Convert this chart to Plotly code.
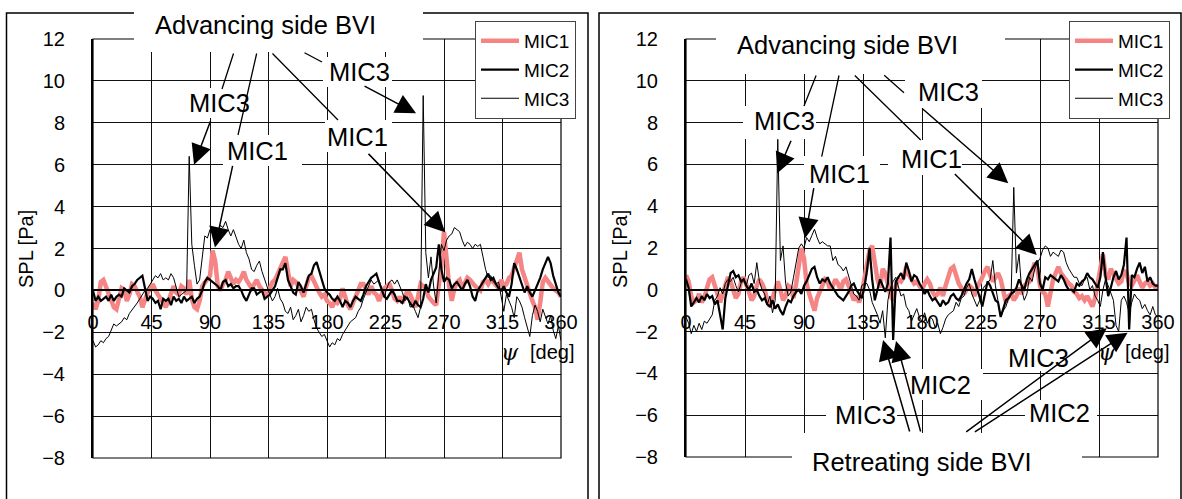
import plotly.graph_objects as go

W, H = 1182, 499
def px(x): return x / W
def py(y): return 1 - y / H

FONT = "Liberation Sans, Arial, sans-serif"

# rotor azimuth sampling grid [deg]
psi = list(range(0, 361, 2))

# ---- left chart ----
left_mic1 = [-0.6,-0.9,-0.5,0.4,0.5,0.2,-0.2,-0.5,-0.8,-0.9,
             -0.4,0.1,0.0,-0.5,-0.2,0.3,0.2,-0.1,-0.3,-0.8,
             -0.4,-0.1,0.1,0.3,0.0,-0.2,-0.4,-0.5,-0.8,-0.5,
             -0.2,0.2,-0.1,-0.2,0.2,0.1,-0.2,0.5,-0.4,-0.8,
             -0.9,-0.5,0.2,0.4,0.5,0.7,1.9,1.4,0.2,0.0,
             0.3,0.5,0.9,0.6,0.3,0.5,0.4,0.6,0.9,0.5,
             0.3,0.1,0.3,0.5,0.2,0.0,-0.1,-0.3,0.1,0.4,
             0.5,0.8,1.1,1.3,1.6,0.9,0.2,0.5,0.4,0.2,
             0.0,-0.3,0.2,0.6,0.7,0.4,0.1,-0.1,-0.3,-0.2,
             -0.5,-0.6,-0.8,-0.5,-0.6,-0.4,0.1,-0.3,-0.7,-0.9,
             -0.6,-0.3,0.0,0.3,0.3,0.1,-0.2,0.2,-0.1,-0.2,
             -0.5,-0.2,0.1,0.2,0.3,0.0,-0.4,-0.5,-0.3,-0.6,
             -0.3,0.0,-0.2,-0.5,-0.8,-0.3,0.3,0.2,0.1,-0.3,
             -0.5,-0.6,-0.7,0.1,1.2,2.8,1.4,0.2,-0.5,0.1,
             0.4,0.5,0.1,0.4,0.6,0.5,0.3,0.2,0.1,0.0,
             0.4,0.5,0.3,0.5,0.4,0.2,0.1,0.5,0.2,0.3,
             0.6,0.7,1.1,1.5,1.8,1.0,0.6,0.2,-0.1,-0.5,
             -0.8,-1.4,-0.6,0.4,0.6,0.4,0.3,0.1,0.0,-0.1,
             -0.3]
left_mic2 = [0.0,-0.5,-0.3,-0.5,-0.4,-0.3,-0.5,-0.2,-0.5,-0.3,
             -0.2,-0.3,0.1,0.0,-0.1,0.2,0.3,0.5,0.6,0.7,
             0.1,-0.5,-0.3,-0.4,-0.6,-0.5,-0.9,-0.4,-0.5,-0.4,
             -0.7,-0.3,-0.5,-0.4,-0.6,-0.3,-0.5,-0.4,-0.3,-0.6,
             -0.4,-0.3,0.0,0.4,0.6,0.5,0.4,0.3,0.2,0.0,
             0.4,0.5,0.2,0.3,0.1,0.2,0.2,0.0,-0.3,-0.5,
             -0.2,0.1,0.1,-0.2,-0.1,0.0,-0.4,-0.3,-0.2,0.0,
             0.2,0.6,1.0,1.0,1.3,0.5,0.2,-0.1,-0.2,0.4,
             0.2,-0.1,0.3,0.7,0.8,1.2,1.35,0.9,0.5,0.1,
             -0.1,-0.2,-0.4,-0.5,-0.3,-0.5,-0.8,-0.5,-0.6,-0.8,
             -0.5,-0.3,-0.4,-0.5,-0.2,0.2,0.4,0.6,0.7,0.8,
             0.4,0.0,-0.3,-0.4,-0.2,0.0,-0.2,-0.5,-0.5,-0.6,
             -0.3,-0.4,-0.6,-0.8,-0.5,-0.7,-0.8,-0.4,0.3,-0.1,
             0.5,0.8,1.1,2.2,1.0,0.4,0.6,0.5,0.1,0.3,
             0.4,0.2,0.0,0.3,0.5,0.2,-0.3,-0.5,0.0,0.2,
             0.4,0.6,0.8,0.5,0.6,0.3,0.1,0.0,0.2,-0.1,
             -0.3,0.3,1.3,1.0,0.6,0.3,-0.1,0.2,-0.1,-0.3,
             0.0,0.3,0.6,1.0,1.3,1.6,1.3,0.7,0.3,-0.1,
             -0.3]
left_mic3 = [-2.4,-2.7,-2.6,-2.4,-2.5,-2.3,-2.2,-1.9,-1.6,-1.7,
             -1.6,-1.5,-1.3,-1.4,-1.1,-0.95,-0.8,-0.6,-0.4,-0.2,
             0.0,0.1,0.3,0.5,0.7,0.6,0.8,0.5,0.6,0.5,
             0.8,0.6,0.2,-0.3,-0.2,-0.1,0.0,6.4,2.2,1.2,
             0.3,0.5,1.5,2.6,2.5,2.9,2.7,3.0,2.8,3.1,
             3.0,3.3,2.9,2.6,2.9,2.5,2.2,2.0,2.4,1.8,
             1.5,1.0,0.9,1.2,1.4,0.9,0.5,0.1,-0.2,-0.5,
             -0.3,0.1,-0.4,-0.6,-1.0,-1.1,-0.8,-1.4,-1.2,-0.9,
             -1.5,-1.2,-0.8,-1.0,-0.9,-1.4,-1.8,-2.0,-2.2,-2.1,
             -2.4,-2.7,-2.5,-2.6,-2.3,-2.4,-2.1,-1.9,-1.7,-1.5,
             -1.4,-1.3,-1.0,-0.8,-0.4,-0.1,0.2,0.5,0.3,0.4,
             0.5,0.1,-0.3,0.1,0.4,0.5,0.3,0.5,0.2,-0.1,
             -0.5,-0.3,-0.8,-0.7,-1.0,-1.3,-0.8,9.3,1.8,0.6,
             1.6,0.2,-0.6,0.7,2.2,1.9,2.4,2.6,2.7,3.0,
             2.9,2.8,2.4,2.1,2.3,2.2,2.0,2.2,2.1,2.2,
             1.6,1.0,0.6,0.7,0.4,0.3,0.4,-0.3,-1.0,-0.2,
             -0.5,-0.8,-1.3,-0.3,-0.5,-0.8,-1.3,-1.8,-2.2,-1.2,
             -0.7,-1.0,-1.5,-0.9,-1.3,-1.6,-1.2,-1.9,-2.3,-1.7,
             -2.4]

# ---- right chart ----
right_mic1 = [0.7,0.4,-0.3,-0.6,-0.5,-0.2,-0.6,-0.4,0.1,0.5,
              0.6,0.2,-0.3,-0.6,-0.2,0.3,0.6,0.4,0.0,-0.4,
              -0.2,0.4,0.6,0.3,-0.1,-0.5,-0.3,0.2,0.5,0.3,
              0.0,-0.5,-0.8,-0.4,0.1,0.4,0.0,-0.5,-0.3,0.2,
              0.1,-0.4,0.3,1.0,2.0,1.5,0.3,-0.2,-0.6,-1.0,
              -0.4,-0.1,0.3,0.5,0.4,0.0,0.2,0.5,0.3,0.0,
              0.4,0.5,0.2,-0.2,-0.5,-0.3,-0.6,-0.2,0.6,1.1,
              1.9,2.1,1.2,0.5,0.1,1.0,0.8,0.3,-0.3,-0.5,
              0.2,0.5,0.4,0.6,1.1,0.7,0.5,0.3,0.4,0.2,
              0.0,0.3,0.5,0.3,-0.1,-0.3,-0.2,0.1,-0.3,0.2,
              0.6,1.0,1.1,0.6,0.3,0.1,-0.2,0.0,0.2,0.1,
              -0.3,0.1,0.3,0.6,0.9,1.1,0.7,0.4,0.6,0.8,
              0.5,-0.1,-0.6,-0.3,-0.2,-0.5,-0.3,0.1,-0.2,0.2,
              0.3,0.4,0.9,1.3,1.0,0.2,-0.1,-0.2,-0.8,-0.2,
              0.5,0.8,1.1,0.8,0.6,0.4,0.3,0.2,-0.1,-0.2,
              -0.4,-0.3,-0.5,-0.3,-0.6,-0.8,-0.4,0.3,1.2,1.7,
              0.7,0.5,1.0,0.8,0.6,0.3,0.4,0.9,0.8,0.3,
              0.2,0.5,0.7,0.4,0.1,0.3,0.4,0.2,0.3,0.1,
              0.2]
right_mic2 = [0.5,0.1,-0.8,-0.6,-0.4,-0.6,-0.3,-0.5,-0.2,-0.4,
              -0.3,-0.7,-0.5,-1.2,-1.9,-0.4,0.3,0.8,0.9,0.6,
              0.7,0.4,0.5,0.2,0.0,0.3,-0.1,0.0,-0.3,-0.5,
              -0.4,-0.7,-0.8,-0.5,-0.9,-0.7,-1.0,-1.2,-0.8,-0.5,
              -0.6,-0.3,-0.1,0.0,-0.2,0.2,0.4,0.7,1.0,1.1,
              0.6,0.3,0.5,0.4,0.6,0.3,0.1,-0.1,-0.3,-0.4,
              -0.5,-0.3,-0.1,0.2,0.3,0.0,-0.2,-0.4,0.1,0.9,
              2.0,0.5,-0.5,0.0,0.5,0.2,-0.1,0.3,2.5,-2.4,
              0.4,0.6,0.8,0.5,1.3,0.9,0.4,0.7,0.6,0.3,
              0.1,-0.2,0.0,-0.3,-0.5,-0.4,-0.6,-0.8,-0.5,-0.7,
              -0.6,-0.3,-0.2,-0.4,-0.5,-0.3,0.0,0.3,0.5,1.0,
              0.5,0.1,-0.4,-0.8,-0.2,0.4,0.2,-0.2,-0.5,-0.6,
              -1.3,-0.9,-0.5,-0.4,-0.2,-0.1,0.1,0.5,0.2,0.0,
              0.5,0.8,1.0,1.2,1.4,0.3,0.0,0.6,0.5,0.7,
              0.6,0.5,0.4,0.7,0.5,0.2,0.0,0.0,-0.1,0.3,
              0.2,0.4,0.5,0.8,0.6,0.5,0.3,0.1,0.6,1.8,
              0.6,-0.3,0.1,0.6,0.9,0.5,0.7,1.2,2.5,-1.9,
              0.7,0.6,1.0,1.3,0.8,1.1,0.4,0.6,0.3,0.2,
              0.2]
right_mic3 = [-1.3,-1.6,-2.1,-1.7,-2.0,-1.6,-1.9,-1.5,-1.6,-1.4,
              -1.2,-0.5,-0.3,0.1,-0.2,0.3,0.5,0.4,0.6,0.2,
              -0.1,0.3,0.5,0.2,0.7,0.8,0.3,1.3,0.4,0.0,
              -0.2,-0.7,-0.3,-1.1,-0.5,7.2,1.4,2.1,0.3,-0.3,
              -0.1,0.6,1.4,2.0,2.2,2.0,2.5,2.3,2.6,2.9,
              2.5,2.2,2.3,2.2,2.1,2.1,1.4,1.6,1.2,1.1,
              0.9,1.1,0.7,0.2,-0.2,-0.3,-0.5,0.2,0.3,0.3,
              0.0,-0.6,-0.9,-1.2,-1.6,-1.0,-2.3,-0.5,0.1,0.4,
              0.6,0.1,-0.3,-0.2,-0.8,-1.0,-1.5,-1.2,-0.9,-1.3,
              -1.5,-1.1,-1.6,-1.3,-1.4,-1.8,-1.6,-2.1,-1.8,-1.4,
              -1.2,-1.1,-1.0,-0.6,-0.8,-0.4,-0.3,0.1,0.3,-0.2,
              -0.5,-0.8,-0.5,0.0,0.2,0.3,0.5,1.4,0.2,-0.5,
              -1.3,-1.0,-0.8,-0.4,-0.2,4.9,0.8,1.7,0.0,-0.5,
              -0.2,0.6,0.4,1.0,1.3,1.5,1.9,2.1,2.0,1.6,
              1.8,1.7,1.6,1.9,1.8,1.3,1.0,0.8,0.6,0.6,
              0.3,0.2,0.5,0.6,0.0,0.2,-0.3,-0.5,-0.8,0.0,
              0.5,0.2,-0.2,-0.5,-1.7,-2.0,-0.5,-0.3,-0.6,-1.1,
              -0.6,-0.2,-0.4,-0.5,-0.9,-0.7,-1.0,-1.2,-0.8,-1.2,
              -1.3]

mic_names = ["MIC1", "MIC2", "MIC3"]
x_ticks = [0, 45, 90, 135, 180, 225, 270, 315, 360]
y_ticks = [-8, -6, -4, -2, 0, 2, 4, 6, 8, 10, 12]

styles = [dict(color="#F58585", width=4.5),
          dict(color="black", width=2.2),
          dict(color="black", width=1)]

fig = go.Figure()
for panel, (series, xa, ya, lg) in enumerate([
        ([left_mic1, left_mic2, left_mic3], "x", "y", "legend"),
        ([right_mic1, right_mic2, right_mic3], "x2", "y2", "legend2")]):
    for name, vals, st in zip(mic_names, series, styles):
        fig.add_trace(go.Scatter(x=psi, y=vals, mode="lines", name=name,
                                 line=st, xaxis=xa, yaxis=ya, legend=lg,
                                 legendgroup=f"{panel}{name}"))

def xax(d0, d1, pos):
    return dict(domain=[px(d0), px(d1)], range=[0, 360], tickvals=x_ticks,
                showgrid=True, gridcolor="#111", gridwidth=1, zeroline=False,
                anchor="free", position=pos, showline=True, linecolor="black",
                linewidth=1.5, ticks="", ticklabelstandoff=14, automargin=False,
                tickfont=dict(size=20, family=FONT, color="black"))

def yax(anchor, top, bottom):
    return dict(domain=[py(bottom), py(top)], range=[-8, 12], tickvals=y_ticks,
                showgrid=True, gridcolor="#111", gridwidth=1, zeroline=False,
                anchor=anchor, showline=True, linecolor="black", linewidth=2,
                ticks="", ticklabelstandoff=22, automargin=False,
                tickfont=dict(size=20, family=FONT, color="black"))

def leg(x):
    return dict(x=px(x), y=py(21), xanchor="left", yanchor="top",
                bgcolor="white", bordercolor="#444", borderwidth=1,
                font=dict(size=19, family=FONT, color="black"),
                tracegroupgap=1, itemwidth=38)

shapes = []
def rect(x0, y0, x1, y1, line=1.5, fill=None):
    shapes.append(dict(type="rect", xref="paper", yref="paper",
                       x0=px(x0), x1=px(x1), y0=py(y1), y1=py(y0),
                       line=dict(color="black", width=line) if line else dict(width=0),
                       fillcolor=fill if fill else "rgba(0,0,0,0)", layer="above"))

# outer frames and plot-area borders
rect(6.5, 13, 588, 530)
rect(599, 13, 1181, 530)
rect(93, 39, 561, 458, 1.2)
rect(686, 39, 1158, 457, 1.2)

# white label boxes (hide grid beneath the labels)
white_boxes = [(134, 3, 423, 52), (185, 88, 253, 118), (223, 135, 302, 166),
               (323, 57, 392, 87), (325, 120, 392, 152),
               (716, 15, 1005, 74), (743, 106, 816, 139), (804, 156, 880, 190),
               (905, 74, 982, 108), (888, 140, 962, 175), (792, 433, 1082, 495),
               (826, 400, 897, 433), (907, 369, 983, 400), (1000, 337, 1075, 371),
               (1025, 400, 1097, 433)]
for b in white_boxes:
    rect(*b, line=0, fill="white")

annotations = []
def label(text, x, y, size=25.5):
    annotations.append(dict(text=text, xref="paper", yref="paper", x=px(x), y=py(y),
                            xanchor="center", yanchor="middle", showarrow=False,
                            font=dict(size=size, family=FONT, color="black")))

def connector(x0, y0, x1, y1):
    annotations.append(dict(text="", xref="paper", yref="paper", x=px(x1), y=py(y1),
                            ax=x0 - x1, ay=y0 - y1, showarrow=True, arrowhead=0,
                            arrowwidth=1.3, arrowcolor="black", standoff=0))

def arrow(xa, ya, tip_deg, tip_val, dx, dy):
    annotations.append(dict(text="", xref=xa, yref=ya, x=tip_deg, y=tip_val,
                            ax=dx, ay=dy, showarrow=True, arrowhead=2,
                            arrowsize=2.7, arrowwidth=1.5, arrowcolor="black",
                            standoff=0))

# left chart labels
label("Advancing side BVI", 265, 25)
label("MIC3", 219, 103)
label("MIC1", 257, 151)
label("MIC3", 359, 72)
label("MIC1", 357, 137)
connector(234, 52, 222, 89)
connector(257, 52, 238, 135)
connector(271, 52, 338, 120)
connector(303, 52, 322, 62)
arrow("x", "y", 77.7, 6.0, 17, -45)
arrow("x", "y", 93.8, 2.05, 18, -83)
arrow("x", "y", 248.5, 8.45, -53, -28)
arrow("x", "y", 270.8, 2.77, -78, -80)

# right chart labels
label("Advancing side BVI", 847.5, 45)
label("MIC3", 784.5, 121)
label("MIC1", 839.7, 174)
label("MIC3", 949, 92)
label("MIC1", 931, 159)
label("Retreating side BVI", 922, 462)
label("MIC3", 865.5, 415)
label("MIC2", 940, 385)
label("MIC3", 1038.5, 358)
label("MIC2", 1059, 413)
connector(816.7, 74, 804, 106)
connector(839.3, 74, 821.7, 156.7)
connector(853.3, 74, 920.7, 140)
connector(882.7, 74, 904, 92.7)
arrow("x2", "y2", 69.6, 5.58, 14.4, -34)
arrow("x2", "y2", 90.8, 2.47, 9, -51.6)
arrow("x2", "y2", 245.8, 5.1, -87.6, -76)
arrow("x2", "y2", 267.5, 1.67, -83.4, -82.3)
arrow("x2", "y2", 150.3, -2.4, 27, 93)
arrow("x2", "y2", 160.2, -2.45, 25, 92)
arrow("x2", "y2", 320.9, -1.84, -142, 104.7)
arrow("x2", "y2", 336.8, -2.05, -154.2, 100.3)

# axis titles
for xc in (26, 620):
    annotations.append(dict(text="SPL [Pa]", xref="paper", yref="paper", x=px(xc), y=py(249),
                            textangle=-90, showarrow=False, xanchor="center", yanchor="middle",
                            font=dict(size=20, family=FONT, color="black")))
for xpsi, xdeg in ((510, 552), (1107, 1147)):
    annotations.append(dict(text="<i>ψ</i>", xref="paper", yref="paper", x=px(xpsi), y=py(352),
                            showarrow=False, xanchor="center", yanchor="middle",
                            font=dict(size=22, family="DejaVu Serif", color="black")))
    annotations.append(dict(text="[deg]", xref="paper", yref="paper", x=px(xdeg), y=py(352),
                            showarrow=False, xanchor="center", yanchor="middle",
                            font=dict(size=20, family=FONT, color="black")))

fig.update_layout(
    width=W, height=H, autosize=False,
    margin=dict(l=0, r=0, t=0, b=0, pad=0, autoexpand=False),
    paper_bgcolor="white", plot_bgcolor="white",
    xaxis=xax(93, 561, py(290)), yaxis=yax("x", 39, 458),
    xaxis2=xax(686, 1158, py(290)), yaxis2=yax("x2", 39, 457),
    legend=leg(475), legend2=leg(1069),
    shapes=shapes, annotations=annotations, showlegend=True,
)

fig.write_html("out.html", config={"displayModeBar": False},
               post_script="document.body.style.margin='0';document.body.style.overflow='hidden';")
